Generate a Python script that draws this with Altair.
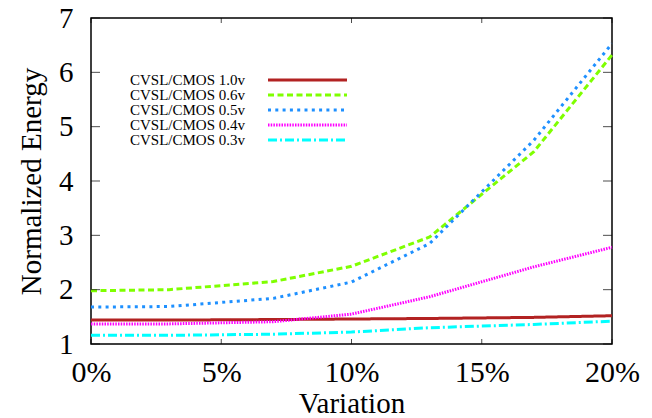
import altair as alt
import pandas as pd

# ---- data ----
variation = [0, 3, 7, 10, 13, 17, 20]
series = ["CVSL/CMOS 1.0v", "CVSL/CMOS 0.6v", "CVSL/CMOS 0.5v", "CVSL/CMOS 0.4v", "CVSL/CMOS 0.3v"]
e_10 = [1.44, 1.44, 1.45, 1.46, 1.47, 1.49, 1.52]
e_06 = [1.98, 2.00, 2.15, 2.43, 2.97, 4.54, 6.32]
e_05 = [1.68, 1.69, 1.84, 2.14, 2.85, 4.75, 6.53]
e_04 = [1.37, 1.37, 1.41, 1.55, 1.87, 2.42, 2.78]
e_03 = [1.16, 1.16, 1.18, 1.22, 1.30, 1.36, 1.42]
x_ticks = [0, 5, 10, 15, 20]
y_ticks = [1, 2, 3, 4, 5, 6, 7]

colors = ["#b22222", "#7fff00", "#1e90ff", "#ff00ff", "#00ffff"]
dashes = [[1, 0], [6, 3.5], [3, 4.3], [1.5, 1.2], [9, 3, 2, 3]]
widths = [3, 3, 3, 3, 3.3]

FONT = "'Liberation Serif', 'Times New Roman', Times, serif"

rows = []
for name, vals in zip(series, [e_10, e_06, e_05, e_04, e_03]):
    for v, e in zip(variation, vals):
        rows.append({"series": name, "variation": v, "energy": e})
df = pd.DataFrame(rows)

color_enc = alt.Color("series:N", scale=alt.Scale(domain=series, range=colors), legend=None)
dash_enc = alt.StrokeDash("series:N", scale=alt.Scale(domain=series, range=dashes), legend=None)
width_enc = alt.StrokeWidth("series:N", scale=alt.Scale(domain=series, range=widths), legend=None)

x_axis = alt.Axis(values=x_ticks, labelExpr="datum.value + '%'", domain=False, ticks=False,
                  grid=False, labelFlush=False, labelFont=FONT, labelFontSize=30,
                  labelColor="black", labelPadding=13, titleFont=FONT, titleFontSize=29,
                  titleFontWeight="normal", titleColor="black", titlePadding=2)
y_axis = alt.Axis(values=y_ticks, format="d", domain=False, ticks=False, grid=False,
                  labelFlush=False, labelFont=FONT, labelFontSize=29, labelColor="black",
                  labelPadding=18, titleFont=FONT, titleFontSize=29,
                  titleFontWeight="normal", titleColor="black", titlePadding=12)

x_enc = alt.X("variation:Q", scale=alt.Scale(domain=[0, 20], nice=False),
              title="Variation", axis=x_axis)
y_enc = alt.Y("energy:Q", scale=alt.Scale(domain=[1, 7], nice=False),
              title="Normalized Energy", axis=y_axis)

lines = alt.Chart(df).mark_line().encode(
    x=x_enc, y=y_enc, color=color_enc, strokeDash=dash_enc, strokeWidth=width_enc,
    detail="series:N", order=alt.Order("variation:Q"),
)

xt = pd.DataFrame({"variation": x_ticks})
yt = pd.DataFrame({"energy": y_ticks})
tick_style = dict(color="black", thickness=1)
bottom = alt.Chart(xt).mark_tick(orient="vertical", size=5, yOffset=-2.5, **tick_style).encode(
    x=alt.X("variation:Q", title="Variation", axis=x_axis), y=alt.datum(1))
top = alt.Chart(xt).mark_tick(orient="vertical", size=5, yOffset=2.5, **tick_style).encode(
    x=alt.X("variation:Q", title="Variation", axis=x_axis), y=alt.datum(7))
left = alt.Chart(yt).mark_tick(orient="horizontal", size=9, xOffset=4.5, **tick_style).encode(
    y=alt.Y("energy:Q", title="Normalized Energy", axis=y_axis), x=alt.datum(0))
right = alt.Chart(yt).mark_tick(orient="horizontal", size=9, xOffset=-4.5, **tick_style).encode(
    y=alt.Y("energy:Q", title="Normalized Energy", axis=y_axis), x=alt.datum(20))

main = alt.layer(lines, bottom, top, left, right)

# ---- legend (inside top-left, text left of the sample line) ----
leg = pd.DataFrame({"series": series})
leg_y = alt.Y("series:N", sort=series, axis=None,
              scale=alt.Scale(type="point", domain=series, range=[62, 122], padding=0))
leg_text = alt.Chart(leg).mark_text(align="right", baseline="middle", font=FONT,
                                    fontSize=15, color="black").encode(
    x=alt.value(154), y=leg_y, text="series:N")
leg_line = alt.Chart(leg).mark_rule().encode(
    x=alt.value(177), x2=alt.value(256), y=leg_y,
    color=color_enc, strokeDash=dash_enc, strokeWidth=width_enc)
legend = alt.layer(leg_line, leg_text)

chart = alt.layer(main, legend).resolve_scale(y="independent").properties(
    width=521, height=326,
    autosize=alt.AutoSizeParams(type="none"),
    padding={"left": 83, "top": 10, "right": 32, "bottom": 74},
).configure_view(stroke="black", strokeWidth=1.5).configure_axis(
    labelFont=FONT, titleFont=FONT, labelColor="black", titleColor="black",
    titleFontWeight="normal",
).configure_text(font=FONT)

chart.save("out.html", embed_options={"renderer": "svg", "actions": False})
